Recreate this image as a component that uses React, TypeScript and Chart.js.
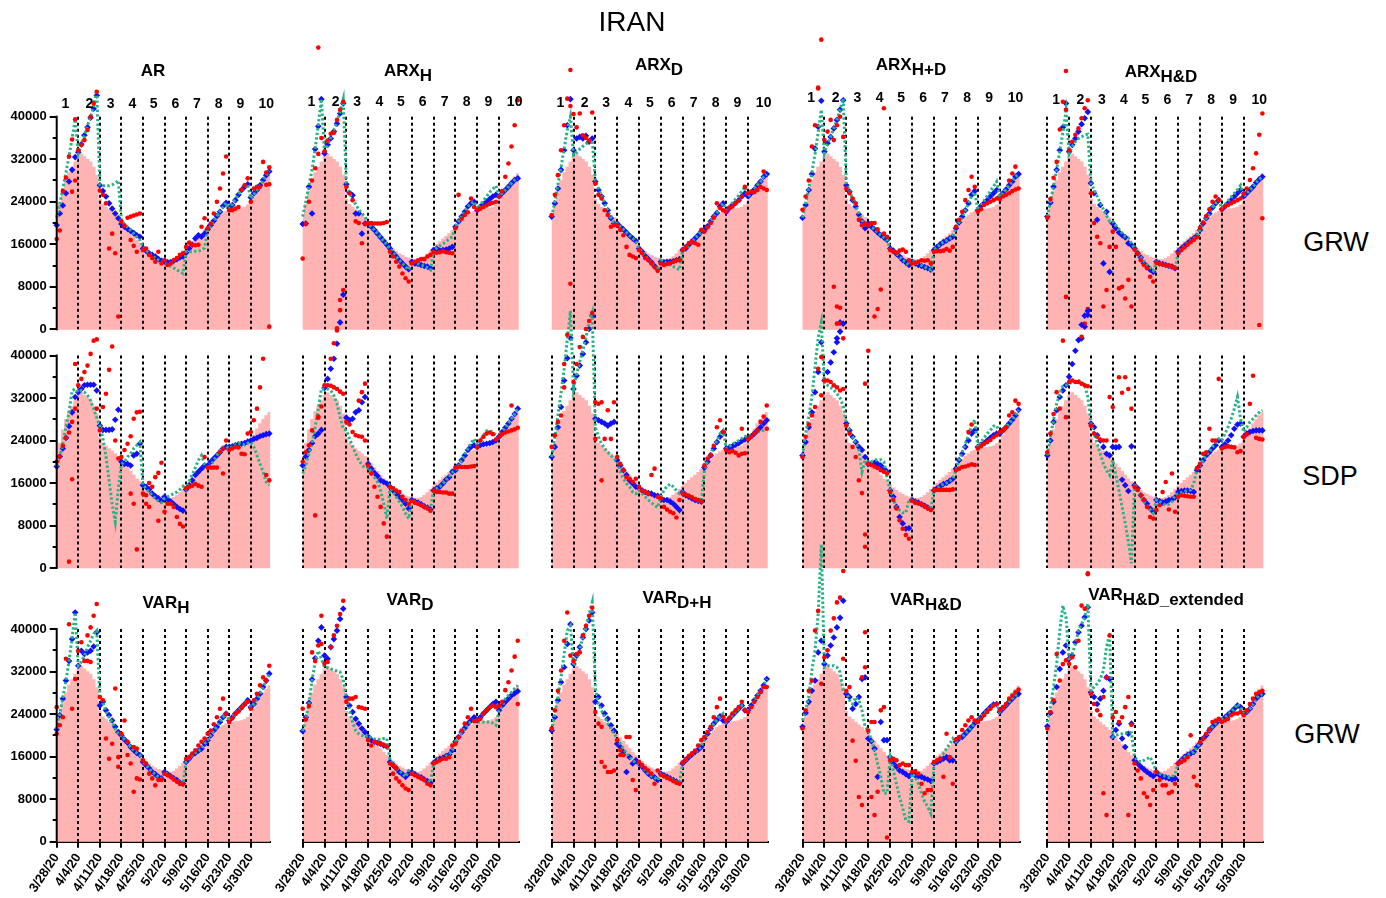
import React, { useEffect, useRef } from 'react';
import { Chart, registerables } from 'chart.js';

Chart.register(...registerables);

const FONT = "'Liberation Sans', Arial, Helvetica, sans-serif";
Chart.defaults.font.family = FONT;

const PINK = '#ffb3b3';
const RED = '#ff0000';
const BLUE = '#1010ff';
const GREEN = '#27b386';

// ---------- axes / labels ----------
const DATE_LABELS = ['3/28/20', '4/4/20', '4/11/20', '4/18/20', '4/25/20', '5/2/20', '5/9/20', '5/16/20', '5/23/20', '5/30/20'];
const WEEK_TICKS = [0, 7, 14, 21, 28, 35, 42, 49, 56, 63];
const DASH_DAYS = [7, 14, 21, 28, 35, 42, 49, 56, 63];
const WINDOW_LABELS = ['1', '2', '3', '4', '5', '6', '7', '8', '9', '10'];
const WINDOW_LABEL_DAYS = [2.8, 10.6, 17.5, 24.6, 31.5, 38.5, 45.5, 52.6, 59.6, 68];
const Y_TICKS = [0, 4000, 8000, 12000, 16000, 20000, 24000, 28000, 32000, 36000, 40000];
const Y_LABELED = [0, 8000, 16000, 24000, 32000, 40000];
const UNIT = 1000; // values below are in thousands

// ---------- actual (pink bars), 3/28 .. 6/5 ----------
const ACTUAL = [
  21, 23.5, 26, 28, 29.5, 30.5, 31.5,
  32.5, 33, 32.5, 32, 31.5, 30.5, 29,
  24.5, 23.5, 23, 22.5, 22, 21.5, 21,
  20.3, 19.6, 18.9, 18.2, 17.5, 16.8, 16.2,
  15.6, 15.1, 14.6, 14.2, 13.9, 13.6, 13.4,
  13.2, 13.1, 13.1, 13.3, 13.7, 14.2, 14.8,
  15.4, 16, 16.5, 17, 17.5, 18, 18.6,
  19.2, 19.8, 20.4, 21, 21.5, 21.9, 22.2,
  22.4, 22.5, 22.6, 22.7, 22.8, 23, 23.4,
  24, 25, 26.2, 27.2, 28, 28.7, 29.3,
];

// ---------- GRW : AR ----------
const G_AR_BLUE = [
  19.6, 21.8, 23.3, 25.6, 27.8, 30, 32.4,
  33.3, 34.8, 36.5, 38, 39.8, 41.5, 44,
  27.1, 26, 25, 23.7, 22.7, 21.8, 20.9,
  19.8, 19.3, 18.9, 18.5, 18.1, 17.7, 17.4,
  15.2, 14.8, 14.3, 14, 13.7, 13.2, 12.9,
  12.7, 12.6, 12.6, 12.9, 13.2, 13.5, 13.7,
  14.4, 15.2, 15.9, 17.1, 17.7, 17.4, 18,
  18.8, 19.6, 20.4, 21.3, 22.1, 23.2, 23.8,
  22.8, 23.4, 24.3, 25.3, 26.2, 26.8, 27.3,
  24.8, 25.6, 26.2, 27.1, 28.1, 29, 29.7,
];
const G_AR_GREEN = [
  21, 23.6, 26.5, 29.5, 32.5, 36, 39.5,
  33, 34.8, 36.5, 38.3, 40, 42, 45,
  27.2, 27, 27, 27, 27.2, 27.5, 28,
  20.5, 19.8, 19.2, 18.6, 18, 17.4, 16.8,
  15.5, 14.9, 14.3, 13.8, 13.4, 13, 12.7,
  12.4, 12.2, 11.8, 11.5, 11.2, 10.8, 10.5,
  14.6, 14.6, 14.6, 14.7, 14.7, 14.9, 15.3,
  18.6, 19.5, 20.4, 21.3, 22.2, 23, 23.8,
  22.6, 23.5, 24.5, 25.4, 26.2, 26.8, 27.2,
  24.6, 25.4, 26.2, 27, 28, 29, 29.8,
];
const G_AR_RED = [
  17, 18.6, 26, 28.5, 32.5, 35.7, 39.5,
  33.7, 34.7, 35.6, 37.5, 40, 42.5, 44.7,
  26.1, 25.3, 23.7, 15.2, 18, 14.3, 2.4,
  20.3, 19.5, 21, 21.2, 21.4, 21.6, 21.8,
  14.9, 15.2, 14, 13.4, 12.7, 14.6, 12.4,
  13, 12.1, 12.4, 13, 13.4, 14, 14.3,
  15.5, 16.3, 15.9, 15.8, 15.9, 19.3, 20.9,
  19, 19.9, 21.8, 24, 26.5, 29.3, 32.5,
  22.4, 22.4, 22.7, 23, 26.2, 27.1, 28.4,
  24, 26.5, 26.8, 26.8, 31.5, 27.2, 27.3,
];
const G_AR_RED_X = [[13, -1.9], [24, 16.8], [25, 15.7], [26, 14.6], [68, 29.5], [69, 30.5], [69, 0.5], [5, 25.9], [6, 28]];

// ---------- GRW : ARX_H ----------
const G_ARXH_BLUE = [
  19.8, 19.9, 26.8, 21.8, 33.9, 38.2, 43.3,
  33.1, 34.7, 35.9, 37.2, 38.7, 40.6, 42.5,
  27.3, 25.7, 25.2, 21.8, 21.8, 18, 19.9,
  19.9, 19.3, 18.7, 18, 17.3, 16.6, 15.9,
  15.2, 14.3, 13.7, 13, 12.4, 11.8, 11.3,
  12.7, 12.4, 12.3, 12.1, 11.9, 11.8, 11.5,
  14.9, 15.2, 14.8, 14.9, 15, 15.2, 15.5,
  19.3, 20.3, 21.2, 22.1, 23.1, 23.7, 24,
  22.4, 23.1, 23.5, 24, 24.5, 25, 25.3,
  25, 25.6, 26.2, 26.8, 27.5, 28.1, 28.4,
];
const G_ARXH_BLUE_X = [[12, 1.3], [13, 6.5]];
const G_ARXH_GREEN = [
  21.2, 24, 27, 30, 34, 38.5, 43.3,
  33.1, 34.7, 36, 37.5, 39, 41, 43.3,
  27.5, 25.6, 24.5, 23.5, 22.5, 21.8, 21.2,
  19.9, 19.3, 18.7, 18, 17.3, 16.6, 15.9,
  15.2, 14.4, 13.7, 13, 12.4, 11.8, 11.2,
  12.7, 12.5, 12.3, 12.1, 11.9, 11.6, 11.2,
  14.9, 15.3, 15.7, 16.1, 16.5, 17, 17.4,
  19.3, 20.3, 21.2, 22.1, 23.1, 23.7, 24,
  22.6, 23.4, 24.2, 25, 25.8, 26.4, 27,
  25, 25.6, 26.2, 26.8, 27.5, 28.1, 28.4,
];
const G_ARXH_RED = [
  13.3, 19.8, 24, 28, 30.3, 33, 36,
  33.5, 35.5, 36.8, 37, 39.4, 41.3, 42.8,
  26.8, 25.6, 24.3, 20.3, 20, 16.2, 19.8,
  20, 20, 19.9, 19.9, 19.9, 20, 20.2,
  14.6, 13.7, 12.7, 11.8, 10.5, 9.6, 9,
  12.4, 12.7, 13, 13.2, 13.2, 13.7, 14,
  14.5, 14.4, 14.5, 14.7, 14.5, 14.4, 14.3,
  19, 25.3, 20.8, 21.5, 22, 24.6, 23,
  22.4, 22.7, 23, 23.3, 23.6, 23.8, 24,
  25, 26, 28.7, 31.2, 34.4, 38.4, 43.1,
];
const G_ARXH_RED_X = [[5, 53], [11, 0.2], [12, 3.6], [12, 5.5], [13, 7.4]];

// ---------- GRW : ARX_D ----------
const G_ARXD_BLUE = [
  21.2, 23.7, 26.5, 30, 33.7, 38.4, 43.3,
  33.7, 35.9, 36.2, 35.9, 36.4, 35.3, 35.9,
  27.8, 26.2, 25, 23.7, 22.4, 20.9, 19.9,
  19.9, 19.3, 18.8, 18.2, 17.6, 17.1, 16.6,
  15.2, 14.6, 13.8, 13.2, 12.6, 11.9, 11.3,
  12.7, 12.6, 12.7, 12.7, 12.8, 13, 13.2,
  14.9, 15.2, 15.9, 16.5, 17.1, 17.7, 18.4,
  18.7, 19.4, 20.3, 21.2, 21.9, 23.1, 23.7,
  22.1, 22.8, 23.4, 23.8, 24.3, 25, 25.6,
  25, 25.6, 26.3, 27.1, 27.8, 28.7, 29.2,
];
const G_ARXD_GREEN = [
  21.2, 24, 27.3, 30.5, 34, 37.5, 40,
  32.8, 33.3, 33.9, 34.4, 34.9, 35.3, 35.6,
  28, 26.5, 25, 23.6, 22.3, 21, 19.9,
  19.9, 19.3, 18.8, 18.2, 17.6, 17.1, 16.6,
  15.2, 14.6, 13.8, 13.2, 12.6, 11.9, 11.2,
  13, 12.7, 12.4, 12.1, 11.8, 11.5, 11.2,
  14.9, 15.2, 15.9, 16.5, 17.1, 17.7, 18.4,
  18.7, 19.4, 20.3, 21.2, 21.9, 23.1, 23.7,
  22.4, 23.1, 23.8, 24.5, 25.2, 26, 26.8,
  25, 25.6, 26.3, 27.1, 27.8, 28.7, 29.2,
];
const G_ARXD_RED = [
  21.5, 25.3, 29, 33.7, 38.4, 43.4, 48.8,
  40.5, 38, 40.6, 36.5, 36, 35.5, 40.8,
  27.5, 25.3, 24.6, 22.4, 21.5, 19.3, 19.6,
  19.6, 18.7, 17.7, 15.5, 14, 13.7, 13.4,
  14.9, 14.3, 13.4, 13, 12.4, 11.7, 11,
  12.4, 12.1, 12.3, 12.4, 12.7, 13, 13,
  14.9, 15.5, 16.2, 16.5, 16.2, 15.9, 18.7,
  18.4, 19.2, 20, 21, 23.7, 22.8, 22.4,
  22.1, 22.8, 23.1, 23.7, 24.2, 25, 26.8,
  25.6, 25.9, 25.8, 26.2, 26.8, 26.5, 26.2,
];
const G_ARXD_RED_X = [[6, 42], [68, 29.7]];

// ---------- GRW : ARX_H+D ----------
const G_ARXHpD_BLUE = [
  21, 23.4, 26.2, 29.2, 34, 38.1, 43,
  33.4, 35, 36.2, 37.8, 39.4, 41.3, 43.1,
  27.1, 25.9, 24.3, 23.1, 21.6, 20.3, 19,
  19.9, 19.3, 18.8, 18.2, 17.7, 17.3, 16.8,
  15.2, 14.8, 14.2, 13.7, 13, 12.6, 12.1,
  12.7, 12.4, 12.1, 11.9, 11.7, 11.5, 11.2,
  14.9, 15.5, 16, 16.4, 16.7, 17.1, 17.4,
  19, 20.1, 21.2, 22.4, 23.7, 25.3, 26,
  22.4, 23.2, 23.7, 24.3, 25, 25.6, 26.2,
  25, 25.6, 26.3, 27.1, 27.8, 28.7, 29.2,
];
const G_ARXHpD_BLUE_X = [[12, 1.3], [11, -1.7]];
const G_ARXHpD_GREEN = [
  21, 23.7, 26.5, 29.5, 33, 37, 41.3,
  33.1, 35, 36.2, 37.8, 39.4, 41.3, 43.4,
  27.5, 26, 24.6, 23.2, 21.8, 20.5, 19.2,
  19.9, 19.3, 18.8, 18.2, 17.7, 17.3, 16.8,
  15.2, 14.8, 14.2, 13.7, 13, 12.6, 12.1,
  13, 12.6, 12.3, 12, 11.7, 11.5, 11.2,
  14.9, 15.5, 16, 16.4, 16.7, 17.1, 17.4,
  19, 20.1, 21.2, 22.4, 23.7, 25.1, 25.8,
  22.4, 23.3, 24.2, 25.1, 26, 26.9, 27.8,
  25, 25.6, 26.3, 27.1, 27.8, 28.7, 29.2,
];
const G_ARXHpD_RED = [
  22.5, 25, 28, 34.4, 38.4, 45.3, 54.5,
  35.6, 37.2, 39.4, 35.6, 38.4, 40, 36.2,
  26.5, 25.6, 24.6, 23.7, 20.6, 19.6, 19.9,
  19.6, 20, 2.4, 3.8, 7.5, 18, 17.4,
  14.9, 14.6, 14.4, 14.8, 15, 14.6, 13,
  12.4, 12.5, 12.7, 13, 12.9, 13, 12.4,
  14.6, 14.7, 14.7, 14.8, 15.1, 14.8, 15.5,
  19.3, 20.6, 22.1, 24.3, 26.2, 28.7, 26.8,
  22.1, 22.6, 23.4, 23.7, 24, 24.3, 24.6,
  24.5, 25, 25.3, 25.6, 26, 26.3, 26.5,
];
const G_ARXHpD_RED_X = [[10, 8], [11, 4.3], [12, 1.1], [13, -1.7], [23, 20], [24, 18.8], [26, 41.6], [5, 45.5], [66, 28], [67, 29.3], [68, 30.6]];

// ---------- GRW : ARX_H&D ----------
const G_ARXHaD_BLUE = [
  21.2, 23.8, 26.8, 30, 33.7, 38, 42.5,
  33.4, 34.7, 35.9, 37.2, 38.6, 39.7, 40.9,
  27.5, 25.6, 20.6, 23.4, 12.4, 22.1, 10.8,
  19.9, 19, 18.2, 17.7, 17.3, 16.2, 15.8,
  15.2, 14.3, 13.5, 12.4, 11.8, 11.2, 10.8,
  12.7, 12.4, 12.3, 12.1, 11.9, 11.8, 11.5,
  14.6, 15.2, 15.7, 16.2, 16.7, 17.1, 17.6,
  18.7, 19.9, 20.9, 21.8, 22.9, 23.7, 24.3,
  22.6, 23.1, 23.7, 24.3, 25, 25.6, 26.2,
  25, 25.6, 26.2, 26.8, 27.6, 28.2, 28.7,
];
const G_ARXHaD_BLUE_X = [[11, -1.7], [12, 0.5], [13, 2.7]];
const G_ARXHaD_GREEN = [
  21.2, 24, 27, 30, 33.5, 37, 41,
  33.1, 34.4, 35.3, 35.9, 36.2, 36.6, 36.7,
  27.5, 26.3, 25, 23.8, 22.6, 21.4, 20.3,
  20.3, 19.5, 18.8, 18.1, 17.4, 17.2, 16.2,
  15.2, 14.4, 13.6, 12.8, 12.2, 11.6, 11,
  12.7, 12.5, 12.2, 12, 11.8, 11.5, 11.2,
  14.6, 15.2, 15.7, 16.2, 16.7, 17.1, 17.6,
  18.7, 19.9, 20.9, 21.8, 22.9, 23.7, 24.3,
  22.8, 23.5, 24.2, 24.9, 25.6, 26.3, 27.1,
  25, 25.6, 26.2, 26.8, 27.6, 28.2, 28.7,
];
const G_ARXHaD_RED = [
  21, 24.5, 28.5, 31.5, 37.6, 42.8, 48.6,
  33.7, 35.3, 36.6, 37.8, 39.7, 41.6, 43.1,
  25.6, 20, 17.4, 16.2, 4.3, 7.4, 15.5,
  18.4, 15.5, 7.7, 8, 5.8, 9.3, 4.3,
  15, 14.2, 13, 12.1, 11.5, 9.9, 9,
  12.5, 12.3, 12.2, 12.1, 12, 11.8, 11.5,
  14.3, 14.9, 15.4, 15.9, 16.4, 16.8, 17.3,
  19.1, 20.1, 21.3, 22.6, 24, 25, 24.3,
  22.5, 23.1, 23.4, 23.7, 24, 24.3, 24.6,
  25.5, 26.5, 28.1, 30.3, 33.1, 36.6, 40.6,
];
const G_ARXHaD_RED_X = [[6, 41.3], [6, 6.1], [11, -1.4], [12, 1.1], [13, 3.8], [69, 20.9], [68, 0.8]];

// ---------- SDP : AR ----------
const S_AR_BLUE = [
  19.1, 21, 22.5, 24.5, 26.7, 29.3, 32.2,
  33.1, 33.7, 34.4, 34.5, 34.5, 34.5, 33.4,
  26.8, 26, 26, 26, 26.1, 27.9, 29.8,
  20, 19.6, 19.6, 19.3, 21.2, 21.5, 23.4,
  15.6, 15.3, 14.8, 14, 13.5, 13.1, 12.6,
  13.4, 12.9, 12.5, 12, 11.5, 11.1, 10.8,
  14.8, 15.6, 16.5, 17.5, 18.1, 18.7, 19.3,
  19.3, 20, 20.6, 21.2, 21.8, 22.5, 22.8,
  22.8, 22.9, 23.1, 23.3, 23.4, 23.5, 23.8,
  24, 24.3, 24.5, 24.8, 25, 25.2, 25.3,
];
const S_AR_GREEN = [
  19.1, 20.9, 23.4, 26.5, 29.3, 33.4, 33.7,
  33.1, 33.4, 33.1, 32.5, 31.5, 30, 28.3,
  26.8, 24.4, 21, 16.5, 12, 8.7, 15,
  19.5, 20, 20.9, 21.5, 22.5, 23.1, 23.7,
  15.6, 15, 14.3, 13.7, 13.1, 12.6, 12.3,
  13.1, 13.4, 13.7, 14, 14.3, 14.8, 15.4,
  14.8, 16.3, 17.6, 18.9, 20.3, 21.2, 19.5,
  18.7, 19.3, 20.3, 21.2, 22.2, 22.7, 22.8,
  22.5, 22.8, 23.1, 23.5, 23.4, 23.2, 23.5,
  23.7, 22.8, 21.2, 19.6, 18.1, 16.2, 15.6,
];
const S_AR_RED = [
  20, 21, 23, 24.5, 25.5, 27.5, 30,
  34.4, 35.6, 36.9, 38.1, 40.3, 42.8, 30,
  25.9, 30.3, 32.8, 37.3, 41.7, 24, 20.6,
  20.9, 22.2, 23.4, 24.8, 28.1, 29.3, 29.4,
  14, 13.7, 16, 15.3, 17.1, 17.9, 19.8,
  10.6, 12.1, 12.1, 11.5, 9.6, 8.3, 7.8,
  15, 15.3, 15.5, 15.8, 15.5, 15.3, 20.9,
  18.9, 18.9, 18.9, 18.9, 21.8, 22.5, 24,
  22.2, 22.5, 22.8, 22.7, 21.5, 21.4, 25.3,
  25.6, 27.8, 30, 34, 39.4, 17.5, 16.5,
];
const S_AR_RED_X = [[4, 1.2], [5, 16.7], [6, 38.4], [24, 14], [25, 12.1], [26, 3.5], [29, 12.1], [30, 11.5], [33, 8.9], [54, 17.8]];

// ---------- SDP : ARX_H ----------
const S_ARXH_BLUE = [
  19.3, 21, 22.2, 23.5, 24.8, 25.3, 26,
  33.9, 35.6, 37.5, 39.4, 42.2, null, null,
  28.3, 27.8, 28.1, 29.3, 29.7, 31.2, 32.2,
  19.6, 18.7, 17.9, 17.3, 16.5, 16.2, 15.9,
  15.3, 14.6, 14, 13.4, 12.8, 12.1, 11.2,
  12.8, 12.5, 12.3, 12, 11.6, 11.4, 11,
  14.6, 15, 15.3, 15.9, 16.6, 17.1, 18.1,
  18.4, 19.3, 20.3, 21.2, 22.2, 22.8, 23.1,
  22.8, 23.1, 23.3, 23.4, 23.5, 23.7, 24,
  24.7, 25.6, 26.4, 27.2, 28.1, 29, 30,
];
const S_ARXH_GREEN = [
  17.8, 19.3, 21.5, 23.5, 26.5, 30, 33.7,
  33.7, 33.7, 33.4, 32.5, 30.9, 28.4, 26.2,
  25.9, 24.4, 22.9, 21.5, 20.3, 19.4, 18.8,
  19, 18.1, 17.1, 16.2, 14.6, 12.1, 9.3,
  15.3, 14.3, 13.4, 12.5, 11.5, 10.3, 9.3,
  12.8, 12.5, 12.3, 12, 11.6, 11.4, 11,
  14.6, 15, 15.3, 15.9, 16.6, 17.2, 18,
  18.4, 19.3, 20.3, 21.4, 22.5, 23.5, 24.3,
  23.1, 24, 25, 25.8, 25.9, 25.5, 25,
  24.7, 25.6, 26.4, 27.2, 28.1, 29, 30,
];
const S_ARXH_RED = [
  20, 21.8, 23.1, 25.9, 9.9, 28.3, 30.4,
  34.4, 34.4, 34.3, 34, 33.7, 33.2, 32.8,
  27.5, 27, 25.6, 25, 24.8, 24.7, 24,
  19.3, 17.8, 15.3, 13.4, 11.5, 8.4, 5.9,
  15.3, 15, 14.6, 14.3, 13.4, 12.8, 12.1,
  12.6, 12.3, 12.1, 11.8, 11.5, 11.2, 10.8,
  14.6, 14.3, 14.3, 14.2, 14.2, 14, 14,
  18.9, 19, 19, 19, 19, 19.1, 19.2,
  22.8, 24, 24.7, 25.3, 25.5, 25.2, 24.2,
  24.7, 25.2, 25.5, 25.7, 25.9, 26.1, 26.4,
];
const S_ARXH_RED_X = [[9, 39.4], [10, 42.3], [11, 44.7], [18, 31.5], [19, 33.1], [20, 34.7], [5, 28.5], [67, 30.6]];

// ---------- SDP : ARX_D ----------
const S_ARXD_BLUE = [
  20.9, 22.8, 26.5, 30.3, 35.3, 39.5, 43.3,
  33.7, 36.2, 38.1, 40.3, 42.5, 45, 47.5,
  28.1, 27.8, 27.5, 27.2, 26.8, 27.2, 27.5,
  20.3, 19.3, 18.4, 17.5, 16.5, 15.9, 15.3,
  15, 14.6, 14.3, 14.1, 14, 13.7, 13.6,
  13.1, 12.8, 12.8, 12.5, 12.1, 11.5, 10.9,
  14.3, 13.7, 13.4, 13.1, 12.8, 12.6, 12.5,
  18.9, 20, 21.2, 22.5, 23.7, 24.7, 25.6,
  22.5, 22.7, 22.9, 23.2, 23.5, 23.9, 24.2,
  24.3, 24.8, 25.3, 25.9, 26.5, 27.2, 27.8,
];
const S_ARXD_GREEN = [
  20.9, 24.7, 28.7, 33, 37.5, 43, 48.4,
  33.7, 36.5, 38.8, 41, 43.5, 46, 48,
  26.5, 24.7, 23.4, 22.5, 21.8, 21.2, 20.6,
  20, 18.1, 16.8, 15.9, 15.3, 14.3, 14,
  14.6, 14, 13.4, 12.8, 12.3, 11.8, 11.4,
  13.4, 14.6, 15.4, 15.8, 15.3, 14.6, 14,
  14.3, 14, 13.7, 13.4, 13.1, 12.6, 12.6,
  18.4, 20.3, 21.5, 22.8, 24, 25.3, 25.9,
  22.5, 22.9, 23.3, 23.7, 24, 24.4, 24.8,
  24.7, 25, 25.3, 25.6, 25.8, 25.9, 26.2,
];
const S_ARXD_RED = [
  22.8, 25, 27.5, 28.7, 38.4, 43.9, 53.5,
  35, 38.4, 41.6, 43.5, 45, 46.5, 48,
  31.2, 30.9, 31.2, 24.3, 29.7, 24.3, 31.2,
  20.9, 19.6, 18.4, 17.1, 16.8, 16.2, 16.8,
  15.3, 14.6, 14.3, 14, 17.5, 18.7, 13.4,
  13.1, 11.5, 11, 10.6, 10.3, 9.5, 12.8,
  14, 13.8, 13.6, 13.3, 13, 12.8, 12.6,
  19.3, 20.6, 21.3, 23, 26.5, 27.8, 25.6,
  22.2, 21.8, 22, 21.7, 21.2, 21.5, 21.6,
  24.3, 24.7, 25.3, 25.9, 27.5, 28.5, 30.6,
];
const S_ARXD_RED_X = [[4, 34], [16, 16.5], [61, 26.2], [69, 26.2], [14, 24.3]];

// ---------- SDP : ARX_H+D ----------
const S_ARXHpD_BLUE = [
  21.2, 23.7, 26.5, 29.3, 33.1, 36.9, 42.5,
  35.3, 36.9, 38.7, 40.6, 42.5, 44.5, 46,
  27.2, 25.9, 24.7, 23.7, 22.8, 22.2, 20.9,
  19.6, 19.6, 19.8, 19.6, 19.3, 18.7, 18.1,
  14.6, 13.4, 11.5, 9.6, 8.4, 7.4, 7.5,
  12.8, 12.5, 12.3, 12, 11.7, 11.4, 11.1,
  14.6, 15, 15.4, 15.8, 16, 16.4, 16.8,
  18.7, 20.3, 21.5, 22.8, 24, 25.3, 25.9,
  22.8, 23.2, 23.5, 24, 24.5, 25, 25.3,
  25.3, 25.9, 26.5, 27.2, 27.9, 28.7, 29.8,
];
const S_ARXHpD_GREEN = [
  21.2, 25.3, 28.4, 32.2, 37.8, 43.4, 46.2,
  34.7, 34.4, 34, 33.5, 32.8, 32, 30.5,
  27.2, 25.9, 24.7, 23.5, 22.2, 18.1, 20.3,
  20, 20, 20.3, 20.4, 20.4, 20, 17,
  14.6, 12.8, 11.5, 10.9, 10.4, 10.4, 12.8,
  12.8, 12.5, 12.3, 12, 11.7, 11.4, 11.1,
  14.6, 15, 15.4, 15.8, 16, 16.4, 16.8,
  18.4, 20.3, 21.8, 23.4, 25, 26.8, 27.9,
  22.8, 23.7, 24.5, 25.3, 25.9, 26.7, 26.8,
  25.3, 25.9, 26.5, 27.2, 27.9, 28.7, 29.8,
];
const S_ARXHpD_RED = [
  20.9, 24.7, 27, 28.7, 30.3, 37.5, 39.7,
  35.3, 35.3, 35, 34.4, 34, 33.4, 33.7,
  26.8, 25.3, 22.8, 20.9, 16.5, 14.1, 6.3,
  19.6, 19.4, 19.1, 18.8, 18.4, 18.1, 17.8,
  14.3, 12.8, 11.2, 9, 7.4, 6.2, 5.5,
  12.6, 12.3, 12.2, 12, 11.6, 11.2, 10.9,
  14.6, 14.7, 14.7, 14.7, 14.7, 14.7, 14.8,
  18.4, 18.7, 19, 19.1, 19.3, 19.5, 19.4,
  22.5, 22.9, 23.4, 23.7, 24.1, 24.6, 25,
  25.6, 25.9, 26.5, 28.7, 29.3, 31.5, 30.9,
];
const S_ARXHpD_RED_X = [[6, 32.5], [11, 46], [12, 49], [20, 4], [20, 34.7], [21, 40.9], [53, 25.6], [54, 27]];

// ---------- SDP : ARX_H&D ----------
const S_ARXHaD_BLUE = [
  21.2, 24, 27.5, 29.7, 32.2, 33.4, 34.4,
  36, 38.4, 40.9, 42.9, 45.8, 47.5, 48.4,
  27.2, 26.5, 25, 24, 22.8, 21.5, 21.2,
  22.8, 22.7, 22.8, 16.6, 15.6, 14.5, 22.9,
  15.6, 15, 13.7, 12.8, 12.1, 11.2, 10.6,
  12.8, 12.6, 12.3, 12.5, 12.8, 12.9, 13.3,
  14.3, 14.5, 14.6, 14.6, 14.5, 14.3, 18.4,
  19.3, 20.3, 21.2, 21.8, 22.5, 23.1, 24,
  22.8, 23.3, 24, 25, 26.2, 27, 27.2,
  24.7, 25.3, 25.6, 25.8, 25.9, 25.9, 25.9,
];
const S_ARXHaD_GREEN = [
  21.2, 24.7, 27.8, 30.9, 32.8, 34.2, 34.4,
  34.7, 35, 35.2, 35.3, 35, 34.4, 32.2,
  27.2, 25.3, 23.4, 21.5, 19.6, 18.4, 17.5,
  20.3, 17.5, 14.5, 11.5, 8.5, 5, 0.9,
  15.9, 14.6, 13.4, 12.5, 11.8, 11, 10.3,
  12.8, 12.5, 12.2, 11.8, 12, 12.5, 13.7,
  14, 14.2, 14.4, 14.6, 14.7, 15.9, 18.7,
  19.3, 20.3, 21.2, 22, 22.8, 23.6, 24.3,
  24, 25.3, 26.5, 28.1, 30, 32.2, 28.1,
  25.6, 26.5, 27.5, 28.1, 28.7, 29.3, 29.7,
];
const S_ARXHaD_RED = [
  21.8, 25.3, 29, 33.1, 30, 42.8, 28.4,
  35, 35.3, 35, 35, 34.7, 34.4, 34.2,
  26.8, 25.3, 24.7, 24.2, 24, 24, 32.2,
  30.3, 24, 35.9, 33, 35.9, 33.7, 30,
  15.3, 14.7, 13.7, 12.8, 11.5, 9.6, 9.3,
  10.9, 11.8, 14.3, 16.2, 11, 17.8, 10.6,
  13.4, 13.7, 13.6, 13.5, 13.4, 13.4, 18.8,
  19.6, 21.5, 21.8, 26.2, 24, 24, 35.6,
  22.5, 22.8, 22.9, 22.8, 22.7, 21.8, 22,
  24.7, 25.2, 30.9, 36.2, 24.5, 24.3, 24.2,
];
const S_ARXHaD_RED_X = [[13, -1]];

// ---------- GRW : VAR_H ----------
const V_H_BLUE = [
  21.1, 23.8, 26.9, 30.3, 34, 38.1, 43.1,
  33.1, 35.9, 35.3, 35.6, 35.9, 36.7, 39.4,
  25.6, 26.3, 24.7, 23.8, 22.8, 21.6, 20.6,
  20, 19.2, 18.6, 17.8, 17.2, 16.7, 16.3,
  15, 14.4, 13.8, 13.1, 12.7, 12.2, 11.9,
  13.1, 12.7, 12.3, 11.9, 11.6, 11.1, 10.9,
  15, 15.6, 16.3, 16.7, 17.1, 17.5, 18.4,
  19.1, 20, 20.9, 21.6, 22.5, 23.4, 24.1,
  22.8, 23.4, 24.1, 24.7, 25.3, 25.9, 26.6,
  25.3, 25.9, 26.9, 27.8, 29.1, 30.3, 31.6,
];
const V_H_GREEN = [
  21.1, 24, 27.2, 30.3, 34, 38.4, 43.1,
  33.1, 33.8, 35, 36.6, 37.8, 39.1, 39.7,
  27.2, 26.3, 24.4, 23.4, 22.5, 21.2, 20.3,
  20, 19.2, 18.6, 17.8, 17.2, 16.7, 16.3,
  15, 14.4, 13.8, 13.1, 12.7, 12.2, 11.9,
  13.1, 12.7, 12.3, 11.9, 11.6, 11.1, 10.9,
  15, 15.6, 16.3, 16.7, 17.1, 17.5, 18.4,
  19.1, 20, 20.9, 21.6, 22.5, 23.4, 24.1,
  22.8, 23.4, 24.1, 24.7, 25.3, 25.9, 26.6,
  25.3, 25.9, 26.9, 27.8, 29.1, 30.3, 31.6,
];
const V_H_RED = [
  20.3, 21.9, 23.4, 34.4, 40.9, 25, 30.6,
  35.9, 37.5, 34, 38.8, 40.3, 42.5, 44.7,
  27.2, 26.6, 19.4, 15.6, 18.4, 28.8, 15.9,
  20.3, 22.8, 16.3, 14.7, 9.4, 11.9, 11.7,
  15.3, 14.7, 12.8, 11.9, 10.6, 11.6, 11.6,
  12.8, 12.5, 12.2, 11.7, 11.3, 10.9, 10.8,
  15.6, 15.9, 16.6, 17.2, 18.1, 18.8, 19.4,
  20.3, 20.9, 22.1, 23.4, 25, 26.9, 24,
  22.5, 23.2, 24, 24.5, 25.2, 25.8, 26.3,
  25, 26.6, 27.8, 29.4, 30.9, 30.3, 33.1,
];
const V_H_RED_X = [[20, 14.1], [23, 18.8], [25, 17.8], [26, 17.5], [0, 25.3], [10, 34], [11, 33.8]];

// ---------- GRW : VAR_D ----------
const V_D_BLUE = [
  20.8, 23.4, 26.1, 30.5, 34.5, 37.8, 40.3,
  35, 34.4, 36.6, 38.1, 39.7, 41.9, 43.8,
  27.2, 25.6, 24.4, 23.1, 22.2, 21.3, 20.6,
  19.7, 19.1, 18.8, 18.6, 18.4, 18.1, 17.9,
  15, 14.4, 13.8, 13.1, 12.7, 12.2, 12.8,
  13.1, 12.7, 12.3, 12.1, 11.7, 11.4, 11.1,
  14.8, 15.3, 15.6, 15.8, 16.1, 16.4, 17.2,
  18.8, 19.7, 20.6, 21.4, 22.2, 22.8, 23.4,
  22.8, 23.4, 24.1, 24.7, 25.3, 25.9, 26.3,
  24.7, 25.6, 26.3, 26.9, 27.5, 27.9, 28.3,
];
const V_D_GREEN = [
  20.8, 23.1, 25.9, 30.3, 33.8, 35.9, 34.4,
  32.8, 32.7, 32.5, 32.3, 32.1, 31.9, 30.5,
  27.2, 24.7, 22.5, 20.9, 20.3, 20, 19.7,
  20, 19.6, 19.3, 19.3, 19.2, 19.4, 19.4,
  15.3, 14.7, 14.1, 13.4, 12.8, 12.2, 13.4,
  13.1, 12.7, 12.3, 12.1, 11.7, 11.4, 11.1,
  14.8, 15.3, 15.6, 15.8, 16.1, 16.4, 17.2,
  18.8, 19.7, 20.6, 21.4, 22.2, 22.5, 22.5,
  22.5, 22.5, 22.5, 22.5, 22.5, 22.3, 21.9,
  24.7, 25.6, 26.9, 27.5, 28.1, 28.8, 29.4,
];
const V_D_RED = [
  25, 23, 25.5, 35.6, 34, 36.9, 42.5,
  33.5, 33.8, 36.6, 38.8, 40.6, 42.8, 45.3,
  26.3, 26.9, 26.9, 27.2, 25.3, 25.2, 25,
  19.1, 18.1, 18.8, 18.6, 18.4, 18.2, 17.9,
  14.7, 12.8, 11.9, 11.3, 10.6, 10, 9.7,
  12.8, 12.5, 12.2, 11.9, 11.6, 10.9, 10.6,
  14.7, 15, 15.3, 15.6, 15.6, 15.9, 18.1,
  18.4, 19.7, 20.9, 22.2, 23.4, 25, 22.7,
  22.8, 23.1, 24.1, 24.7, 25.3, 25.6, 25.3,
  25.6, 26.3, 28.5, 30, 32.2, 34.8, 37.8,
];
const V_D_RED_X = [[6, 37.2], [29, 14.4], [30, 13.8], [69, 25.9]];

// ---------- GRW : VAR_D+H ----------
const V_DpH_BLUE = [
  20.9, 23.4, 26.6, 30, 32.8, 37.2, 40.9,
  33.4, 35, 36.6, 38.4, 40, 41.6, 43.1,
  26.3, 27.2, 25.6, 24.1, 23.1, 21.9, 20.9,
  18.4, 17.8, 16.9, 13.1, 15.9, 14.7, 15.3,
  14.7, 14.1, 13.4, 12.8, 12.3, 12.1, 11.6,
  12.8, 12.5, 12.2, 11.9, 11.6, 11.3, 11.1,
  14.7, 15.3, 15.9, 16.4, 16.9, 17.3, 17.8,
  19.4, 20.3, 21.3, 22.2, 22.9, 23.6, 22.8,
  22.5, 23.1, 23.8, 24.4, 25, 25.6, 24.7,
  24.7, 25.6, 26.6, 27.5, 28.4, 29.4, 30.6,
];
const V_DpH_GREEN = [
  20.9, 24.1, 27.2, 30.9, 35.3, 39.7, 40.6,
  33.1, 34.7, 36.3, 38.4, 40.3, 42.8, 45,
  28.8, 25.9, 24.7, 23.4, 22.2, 21.3, 20.3,
  19.4, 18.4, 17.5, 16.6, 15.9, 15.3, 14.8,
  14.7, 14.1, 13.4, 12.8, 12.3, 12.1, 11.6,
  12.8, 12.5, 12.2, 11.9, 11.6, 11.3, 11.1,
  14.7, 15.3, 15.9, 16.4, 16.9, 17.3, 17.8,
  19.4, 20.3, 21.3, 22.2, 22.9, 23.6, 24.1,
  22.5, 23.1, 23.8, 24.4, 25, 25.6, 24.7,
  24.7, 25.6, 26.6, 27.5, 28.4, 29.4, 30.6,
];
const V_DpH_RED = [
  21.3, 24.7, 28.4, 32.2, 37.8, 43.1, 35,
  34, 35.3, 35.6, 38.8, 40.6, 42.5, 44,
  24.4, 22.2, 21.6, 14.1, 13.1, 13.1, 13.4,
  19.1, 17.2, 16.3, 19.7, 19.7, 11.6, 9.7,
  15, 14.4, 13.8, 13.4, 12.8, 10.9, 13.4,
  12.6, 12.3, 12, 11.8, 11.4, 11.1, 10.9,
  14.9, 15.5, 16.1, 16.6, 17.1, 18.1, 19.1,
  19.7, 20.6, 21.6, 23.4, 25.3, 26.9, 23.5,
  22.8, 23.3, 24.1, 24.7, 25.3, 26.3, 24.7,
  24.4, 25.3, 26.3, 27.2, 28.1, 29.1, 29.1,
];
const V_DpH_RED_X = [[16, 15], [22, 16.3], [23, 16.3]];

// ---------- GRW : VAR_H&D ----------
const V_HaD_BLUE = [
  21.6, 24.2, 26.3, 28.4, 30.3, 35.6, 37.8,
  33.4, 35, 36.9, 38.4, 40.3, 42.1, 45.3,
  27.8, 27.2, 25, 25.9, 27.2, 30.6, 30.9,
  19.4, 18.9, 17.5, 12.2, 22.5, 19.1, 19.1,
  15.9, 14.7, 14.1, 13.4, 13.1, 12.7, 12.3,
  12.8, 12.5, 12.3, 12.2, 11.9, 11.7, 11.4,
  14.7, 15, 15.3, 15.6, 15.9, 15.3, 15.3,
  18.8, 19.4, 19.7, 20.3, 20.9, 21.6, 22.3,
  22.8, 23.4, 24.1, 24.7, 25.3, 25.8, 25.9,
  24.4, 25, 25.6, 26.3, 26.9, 27.5, 27.8,
];
const V_HaD_GREEN = [
  22.8, 24.7, 27.2, 32.2, 35.9, 42.8, 55.9,
  32.8, 33.1, 33.1, 33.1, 32.8, 31.9, 28.4,
  28.1, 26.6, 25.9, 27.2, 26.6, 24.7, 21.6,
  20.9, 19.1, 17.2, 14.7, 12.2, 9.1, 9.1,
  15.9, 13.4, 10.9, 8.4, 6.3, 4.1, 3.8,
  12.8, 12.2, 10.9, 9.1, 7.5, 6.6, 5.3,
  14.7, 15.3, 15.9, 16.6, 17.5, 18.4, 19.4,
  18.8, 19.4, 19.7, 20.3, 20.9, 21.6, 22.3,
  22.8, 23.4, 24.1, 24.7, 25.3, 25.8, 25.9,
  24.4, 25, 25.6, 26.3, 26.9, 27.5, 27.8,
];
const V_HaD_RED = [
  21.3, 24.7, 28.4, 30.3, 39.7, 43.4, 29.7,
  34.7, 36, 39.7, 42, 45, 45.9, 50.9,
  28.4, 29.1, 19, 15.2, 8.4, 6.9, 32.8,
  20.9, 8.4, 5, 9.4, 24.7, 25.3, 0.8,
  15.3, 15.6, 15.3, 14.4, 14.7, 14.4, 14.4,
  13.1, 13.3, 12.8, 10.9, 9.1, 9.7, 9.7,
  15, 15.3, 15.6, 12.2, 20.3, 15.9, 10.9,
  19.2, 19.7, 21, 21.9, 22.8, 23.4, 22.8,
  22.5, 23.1, 23.8, 24.4, 25, 25.6, 25.9,
  24.7, 25.3, 25.9, 26.9, 27.5, 28.1, 28.6,
];
const V_HaD_RED_X = [[13, 34.4], [19, 30.9], [20, 39.4], [22, 22.5], [23, 22.5]];

// ---------- GRW : VAR_H&D_extended ----------
const V_HaDx_BLUE = [
  21.7, 24.2, 26.3, 29.1, 32.5, 35.6, 36.9,
  34.4, 35, 37.5, 39.4, 40.6, 42.2, 44.1,
  28.1, 27.2, 25.9, 26.9, 28.4, 30.9, 30.6,
  19.7, 21, 22.2, 19.4, 17.8, 20.3, 22.2,
  15.3, 14.7, 14.1, 13.6, 13.1, 12.7, 12.3,
  13.1, 12.5, 12.2, 12.1, 11.9, 11.7, 11.9,
  14.7, 15.3, 15.9, 16.3, 16.6, 16.9, 17.8,
  18.4, 19.4, 20, 20.9, 21.6, 22.2, 22.8,
  22.8, 23.4, 23.9, 24.4, 25, 25.6, 25.3,
  24.1, 24.4, 25, 25.9, 26.9, 27.5, 27.8,
];
const V_HaDx_GREEN = [
  22.5, 25.3, 29.1, 33.4, 39.7, 44.4, 42.2,
  34.1, 35.3, 37.2, 39.7, 40.9, 42.2, 44.7,
  28.4, 29.1, 29.7, 30.6, 32.2, 36.6, 39.1,
  19.7, 20, 20.2, 20.3, 20.4, 20.6, 20.5,
  15.9, 15.3, 15, 15.3, 15.6, 15.9, 14.7,
  13.1, 12.8, 12.5, 12.3, 12.1, 12.2, 12.8,
  14.7, 15.3, 15.9, 16.3, 16.6, 16.9, 17.8,
  18.4, 19.4, 20, 20.9, 21.6, 22.2, 22.8,
  22.8, 23.4, 23.9, 24.4, 25, 25.9, 25.3,
  24.1, 24.4, 25, 25.9, 26.9, 27.5, 27.8,
];
const V_HaDx_RED = [
  21.3, 24.4, 26.6, 35.3, 30.3, 33.4, 34.1,
  33.4, 34.7, 32.8, 37.8, 44.4, 43.8, 50.3,
  27.8, 25.9, 24.7, 23.8, 27.2, 30.9, 38.8,
  23.4, 24.4, 22.5, 23.4, 25.3, 27.2, 22,
  14.7, 13.4, 11.9, 9.1, 8.4, 6.9, 9.7,
  13.1, 11.6, 10.6, 10.6, 9.1, 9.4, 10.9,
  14.7, 15, 15.3, 15.9, 20, 12.2, 10.6,
  18.7, 19.4, 20.3, 21.2, 22.5, 22.8, 23.1,
  22.5, 22.8, 23.1, 23.8, 24.1, 24.1, 24.4,
  23.8, 24.7, 25.9, 26.9, 27.8, 28.1, 28.4,
];
const V_HaDx_RED_X = [[18, 9.1], [19, 5], [26, 5]];

// ---------- layout ----------
const ROWS = [
  { T: 116.7, B: 329.3, minK: -3, maxK: 56 },
  { T: 355.5, B: 568, minK: -3, maxK: 56 },
  { T: 629, B: 841.7, minK: 0, maxK: 57 },
];
const COLS = [
  { L: 56.7, W: 213.5 },
  { L: 302.7, W: 216 },
  { L: 551.7, W: 216 },
  { L: 802.5, W: 217 },
  { L: 1047.3, W: 216 },
];
const NUM_OFFSETS = [12.4, 15, 14, 18.4, 16.7];

const PANELS = [
  { row: 0, col: 0, blue: G_AR_BLUE, green: G_AR_GREEN, red: G_AR_RED, redX: G_AR_RED_X, blueX: [], leftDash: false },
  { row: 0, col: 1, blue: G_ARXH_BLUE, green: G_ARXH_GREEN, red: G_ARXH_RED, redX: G_ARXH_RED_X, blueX: G_ARXH_BLUE_X, leftDash: false },
  { row: 0, col: 2, blue: G_ARXD_BLUE, green: G_ARXD_GREEN, red: G_ARXD_RED, redX: G_ARXD_RED_X, blueX: [], leftDash: false },
  { row: 0, col: 3, blue: G_ARXHpD_BLUE, green: G_ARXHpD_GREEN, red: G_ARXHpD_RED, redX: G_ARXHpD_RED_X, blueX: G_ARXHpD_BLUE_X, leftDash: false },
  { row: 0, col: 4, blue: G_ARXHaD_BLUE, green: G_ARXHaD_GREEN, red: G_ARXHaD_RED, redX: G_ARXHaD_RED_X, blueX: G_ARXHaD_BLUE_X, leftDash: true },
  { row: 1, col: 0, blue: S_AR_BLUE, green: S_AR_GREEN, red: S_AR_RED, redX: S_AR_RED_X, blueX: [], leftDash: false },
  { row: 1, col: 1, blue: S_ARXH_BLUE, green: S_ARXH_GREEN, red: S_ARXH_RED, redX: S_ARXH_RED_X, blueX: [], leftDash: true },
  { row: 1, col: 2, blue: S_ARXD_BLUE, green: S_ARXD_GREEN, red: S_ARXD_RED, redX: S_ARXD_RED_X, blueX: [], leftDash: true },
  { row: 1, col: 3, blue: S_ARXHpD_BLUE, green: S_ARXHpD_GREEN, red: S_ARXHpD_RED, redX: S_ARXHpD_RED_X, blueX: [], leftDash: true },
  { row: 1, col: 4, blue: S_ARXHaD_BLUE, green: S_ARXHaD_GREEN, red: S_ARXHaD_RED, redX: S_ARXHaD_RED_X, blueX: [], leftDash: true },
  { row: 2, col: 0, blue: V_H_BLUE, green: V_H_GREEN, red: V_H_RED, redX: V_H_RED_X, blueX: [], leftDash: false },
  { row: 2, col: 1, blue: V_D_BLUE, green: V_D_GREEN, red: V_D_RED, redX: V_D_RED_X, blueX: [], leftDash: true },
  { row: 2, col: 2, blue: V_DpH_BLUE, green: V_DpH_GREEN, red: V_DpH_RED, redX: V_DpH_RED_X, blueX: [], leftDash: true },
  { row: 2, col: 3, blue: V_HaD_BLUE, green: V_HaD_GREEN, red: V_HaD_RED, redX: V_HaD_RED_X, blueX: [], leftDash: true },
  { row: 2, col: 4, blue: V_HaDx_BLUE, green: V_HaDx_GREEN, red: V_HaDx_RED, redX: V_HaDx_RED_X, blueX: [], leftDash: true },
];

const TITLES = [
  { main: 'AR', sub: '', x: 153, y: 70 },
  { main: 'ARX', sub: 'H', x: 408, y: 70 },
  { main: 'ARX', sub: 'D', x: 659, y: 64 },
  { main: 'ARX', sub: 'H+D', x: 911, y: 64 },
  { main: 'ARX', sub: 'H&D', x: 1161, y: 71 },
  { main: 'VAR', sub: 'H', x: 166, y: 602 },
  { main: 'VAR', sub: 'D', x: 410, y: 599 },
  { main: 'VAR', sub: 'D+H', x: 677, y: 597 },
  { main: 'VAR', sub: 'H&D', x: 926, y: 599 },
  { main: 'VAR', sub: 'H&D_extended', x: 1166, y: 594 },
];
const ROW_LABELS = [
  { text: 'GRW', x: 1336, y: 242 },
  { text: 'SDP', x: 1330, y: 476 },
  { text: 'GRW', x: 1327, y: 734 },
];

const toPts = (arr) => arr.map((v, i) => ({ x: i, y: v == null ? null : v * UNIT }));
const pairPts = (arr) => arr.map(([d, v]) => ({ x: d, y: v * UNIT }));

const EDGE = 26; // spare room above / below every plot area

function Panel({ cfg }) {
  const ref = useRef(null);
  const row = ROWS[cfg.row];
  const col = COLS[cfg.col];
  const ppk = (row.B - row.T) / 40;
  const areaTop = row.T - (row.maxK - 40) * ppk;
  const areaBottom = row.B - row.minK * ppk;
  const hasY = cfg.col === 0;
  const hasX = cfg.row === 2;
  const yW = hasY ? 52 : 0;
  const leftRoom = hasY ? 52 : 38;
  const xH = hasX ? 58 : 0;
  const canvasLeft = Math.floor(col.L) - leftRoom;
  const canvasTop = Math.floor(areaTop) - EDGE;
  const canvasRight = Math.ceil(col.L + col.W) + 16;
  const canvasBottom = Math.ceil(areaBottom) + xH + EDGE;
  const width = canvasRight - canvasLeft;
  const height = canvasBottom - canvasTop;
  const pad = {
    left: col.L - canvasLeft - yW,
    top: areaTop - canvasTop,
    right: canvasRight - (col.L + col.W),
    bottom: canvasBottom - areaBottom - xH,
  };

  useEffect(() => {
    const dashDays = cfg.leftDash ? [0, ...DASH_DAYS] : DASH_DAYS;
    const decor = {
      id: 'decor',
      afterDatasetDraw(chart, args) {
        if (args.index !== 0) return;
        const { ctx } = chart;
        const xs = chart.scales.x;
        const ys = chart.scales.y;
        const y0 = ys.getPixelForValue(0);
        const y1 = ys.getPixelForValue(40000);
        ctx.save();
        ctx.strokeStyle = '#000';
        ctx.lineWidth = 2;
        ctx.setLineDash([3, 3]);
        dashDays.forEach((d) => {
          const px = Math.round(xs.getPixelForValue(d));
          ctx.beginPath();
          ctx.moveTo(px, y1);
          ctx.lineTo(px, y0);
          ctx.stroke();
        });
        ctx.restore();
      },
      afterDraw(chart) {
        const { ctx } = chart;
        const xs = chart.scales.x;
        const ys = chart.scales.y;
        ctx.save();
        if (hasY) {
          const px = chart.chartArea.left;
          ctx.strokeStyle = '#000';
          ctx.lineWidth = 2;
          ctx.beginPath();
          ctx.moveTo(px, ys.getPixelForValue(40000) - 1);
          ctx.lineTo(px, ys.getPixelForValue(0) + 1);
          ctx.stroke();
          // major / minor tick marks
          Y_TICKS.forEach((v) => {
            const len = Y_LABELED.includes(v) ? 7 : 4;
            const py = Math.round(ys.getPixelForValue(v));
            ctx.beginPath();
            ctx.moveTo(px - len, py);
            ctx.lineTo(px, py);
            ctx.stroke();
          });
        }
        if (cfg.row === 0) {
          ctx.fillStyle = '#000';
          ctx.font = `bold 14px ${FONT}`;
          ctx.textAlign = 'center';
          ctx.textBaseline = 'middle';
          const yy = ys.getPixelForValue(40000) - NUM_OFFSETS[cfg.col];
          WINDOW_LABELS.forEach((t, i) => {
            ctx.fillText(t, xs.getPixelForValue(WINDOW_LABEL_DAYS[i]), yy);
          });
        }
        ctx.restore();
      },
    };

    const pointSet = (data, color, style, radius, order) => ({
      type: 'line',
      data,
      showLine: false,
      pointStyle: style,
      pointRadius: radius,
      pointHoverRadius: radius,
      pointBackgroundColor: color,
      pointBorderColor: color,
      pointBorderWidth: 0,
      order,
      clip: false,
    });

    const chart = new Chart(ref.current, {
      type: 'bar',
      data: {
        datasets: [
          {
            type: 'bar',
            data: toPts(ACTUAL),
            backgroundColor: PINK,
            borderWidth: 0,
            barPercentage: 1,
            categoryPercentage: 1,
            order: 10,
          },
          pointSet(toPts(cfg.blue), BLUE, 'rectRot', 3.3, 4),
          pointSet(pairPts(cfg.blueX), BLUE, 'rectRot', 3.3, 4),
          {
            type: 'line',
            data: toPts(cfg.green),
            borderColor: GREEN,
            borderWidth: 3,
            borderDash: [2.4, 2.2],
            pointRadius: 0,
            pointHoverRadius: 0,
            fill: false,
            tension: 0,
            order: 3,
            clip: false,
          },
          pointSet(toPts(cfg.red), RED, 'circle', 2.3, 2),
          pointSet(pairPts(cfg.redX), RED, 'circle', 2.3, 2),
        ],
      },
      options: {
        responsive: false,
        maintainAspectRatio: false,
        animation: false,
        devicePixelRatio: 1,
        events: [],
        layout: { padding: pad },
        plugins: { legend: { display: false }, tooltip: { enabled: false } },
        scales: {
          x: {
            type: 'linear',
            min: 0,
            max: 69.3,
            offset: false,
            display: hasX,
            afterBuildTicks: (s) => {
              s.ticks = WEEK_TICKS.map((v) => ({ value: v }));
            },
            afterFit: (s) => {
              if (hasX) s.height = xH;
            },
            ticks: {
              autoSkip: false,
              minRotation: 56,
              maxRotation: 56,
              padding: 3,
              color: '#000',
              font: { family: FONT, size: 13, weight: 'bold' },
              callback: (v, i) => DATE_LABELS[i],
            },
            grid: {
              display: true,
              drawOnChartArea: false,
              drawTicks: true,
              tickLength: 6,
              color: '#000',
              lineWidth: 2,
              offset: false,
            },
            border: { display: true, color: '#000', width: 2 },
          },
          y: {
            type: 'linear',
            min: row.minK * UNIT,
            max: row.maxK * UNIT,
            display: hasY,
            position: 'left',
            afterBuildTicks: (s) => {
              s.ticks = Y_TICKS.map((v) => ({ value: v }));
            },
            afterFit: (s) => {
              if (hasY) s.width = yW;
            },
            ticks: {
              autoSkip: false,
              padding: 10,
              color: '#000',
              font: { family: FONT, size: 13, weight: 'bold' },
              callback: (v) => (Y_LABELED.includes(v) ? String(v) : ''),
            },
            grid: {
              display: false,
              drawOnChartArea: false,
              drawTicks: false,
            },
            border: { display: false },
          },
        },
      },
      plugins: [decor],
    });
    return () => chart.destroy();
  }, []);

  return (
    <canvas
      ref={ref}
      width={width}
      height={height}
      style={{ position: 'absolute', left: canvasLeft, top: canvasTop, width, height }}
    />
  );
}

export default function App() {
  return (
    <div
      style={{
        position: 'absolute',
        left: 0,
        top: 0,
        width: 1386,
        height: 898,
        overflow: 'hidden',
        background: '#fff',
        fontFamily: FONT,
      }}
    >
      {PANELS.map((p, i) => (
        <Panel key={i} cfg={p} />
      ))}
      <div
        style={{
          position: 'absolute',
          left: 632,
          top: 22,
          transform: 'translate(-50%, -50%)',
          fontSize: 28,
          lineHeight: '28px',
          color: '#000',
          whiteSpace: 'nowrap',
        }}
      >
        IRAN
      </div>
      {TITLES.map((t, i) => (
        <div
          key={i}
          style={{
            position: 'absolute',
            left: t.x,
            top: t.y,
            transform: 'translate(-50%, -50%)',
            fontSize: 17,
            lineHeight: '17px',
            fontWeight: 'bold',
            color: '#000',
            whiteSpace: 'nowrap',
          }}
        >
          {t.main}
          {t.sub ? <span style={{ position: 'relative', top: 5 }}>{t.sub}</span> : null}
        </div>
      ))}
      {ROW_LABELS.map((r, i) => (
        <div
          key={i}
          style={{
            position: 'absolute',
            left: r.x,
            top: r.y,
            transform: 'translate(-50%, -50%)',
            fontSize: 27,
            lineHeight: '27px',
            color: '#000',
            whiteSpace: 'nowrap',
          }}
        >
          {r.text}
        </div>
      ))}
    </div>
  );
}
